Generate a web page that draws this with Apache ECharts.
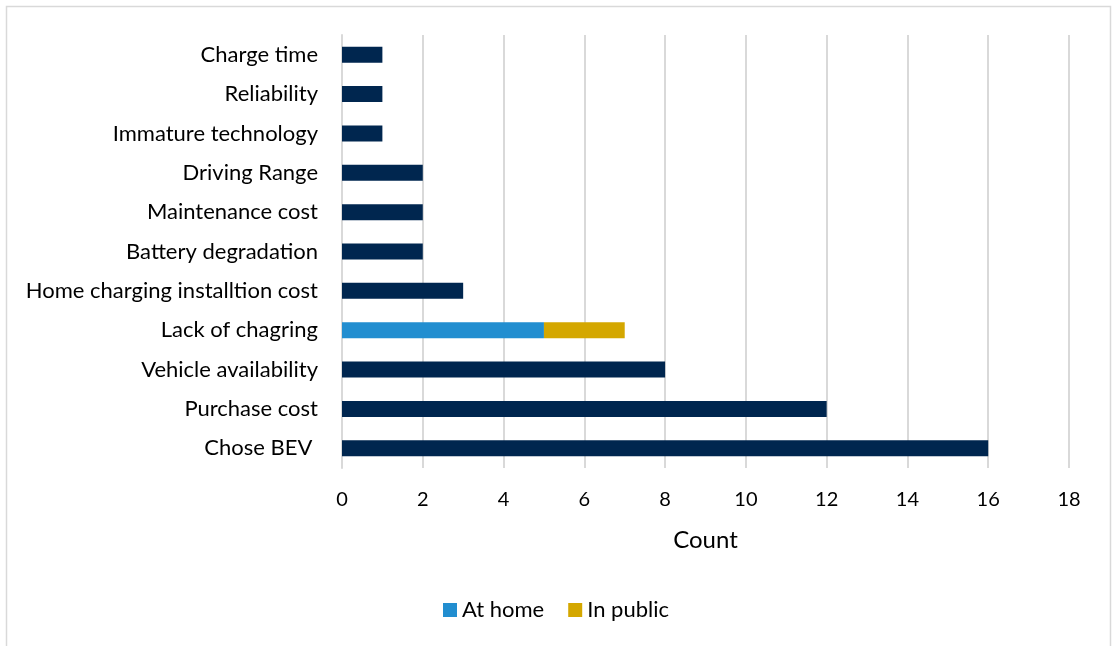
<!DOCTYPE html>
<html>
<head>
<meta charset="utf-8">
<script src="https://cdn.jsdelivr.net/npm/echarts@6/dist/echarts.min.js"></script>
<style>
  html, body { margin: 0; padding: 0; background: #fff; }
  #chart { width: 1112px; height: 646px; }
</style>
</head>
<body>
<div id="chart"></div>
<script>
// Reasons listed top to bottom
const categories = [
  'Charge time', 'Reliability', 'Immature technology', 'Driving Range',
  'Maintenance cost', 'Battery degradation', 'Home charging installtion cost',
  'Lack of chagring', 'Vehicle availability', 'Purchase cost', 'Chose BEV '
];
// Single-colour counts (no split)
const totalCounts = [1, 1, 1, 2, 2, 2, 3, null, 8, 12, 16];
// "Lack of chagring" split by where charging happens
const atHomeCounts = [null, null, null, null, null, null, null, 5, null, null, null];
const inPublicCounts = [null, null, null, null, null, null, null, 2, null, null, null];
const countTicks = { min: 0, max: 18, interval: 2 };

const FONT = 'Lato';
const chart = echarts.init(document.getElementById('chart'));

chart.setOption({
  animation: false,
  textStyle: { fontFamily: FONT },
  graphic: [{
    type: 'rect',
    shape: { x: 6.5, y: 6.5, width: 1104, height: 700 },
    style: { fill: 'none', stroke: '#d9d9d9', lineWidth: 1.5 },
    silent: true
  }],
  grid: { left: 342, right: 43, top: 35, height: 433, containLabel: false },
  legend: {
    data: ['At home', 'In public'],
    bottom: 20,
    left: 'center',
    itemWidth: 14,
    itemHeight: 14,
    itemGap: 24,
    icon: 'rect',
    textStyle: { fontFamily: FONT, fontSize: 22, color: '#000' }
  },
  xAxis: {
    type: 'value',
    min: countTicks.min,
    max: countTicks.max,
    interval: countTicks.interval,
    name: 'Count',
    nameLocation: 'middle',
    nameGap: 60,
    nameTextStyle: { fontFamily: FONT, fontSize: 24, color: '#000' },
    axisLine: { show: false },
    axisTick: { show: false },
    axisLabel: { margin: 22, fontSize: 20, color: '#000', fontFamily: FONT },
    splitLine: { show: true, lineStyle: { color: '#d9d9d9', width: 2 } }
  },
  yAxis: {
    type: 'category',
    data: categories,
    inverse: true,
    axisLine: { show: true, lineStyle: { color: '#d9d9d9', width: 2 } },
    axisTick: { show: false },
    axisLabel: { margin: 24, fontSize: 22, color: '#000', fontFamily: FONT }
  },
  series: [
    {
      name: 'Total',
      type: 'bar',
      stack: 'count',
      data: totalCounts,
      barWidth: 16,
      itemStyle: { color: '#00264f' }
    },
    {
      name: 'At home',
      type: 'bar',
      stack: 'count',
      data: atHomeCounts,
      barWidth: 16,
      itemStyle: { color: '#228ed0' }
    },
    {
      name: 'In public',
      type: 'bar',
      stack: 'count',
      data: inPublicCounts,
      barWidth: 16,
      itemStyle: { color: '#d4a700' }
    }
  ]
});
</script>
</body>
</html>
